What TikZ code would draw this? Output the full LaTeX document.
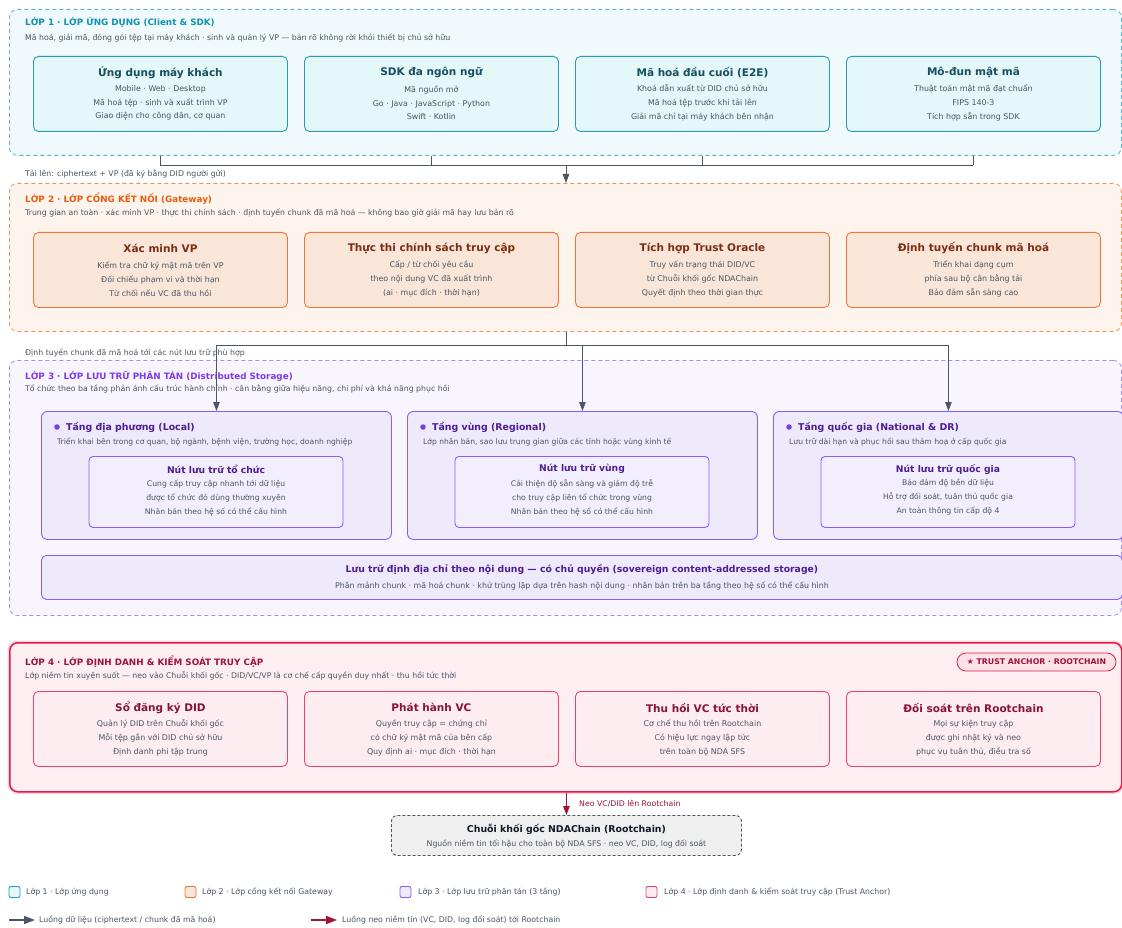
\documentclass[tikz,border=0pt]{standalone}
\usepackage{fontspec}
\setmainfont{DejaVu Sans}
\usetikzlibrary{arrows.meta,calc}
\definecolor{txt}{HTML}{4B5563}
\definecolor{flowc}{HTML}{4A5568}
\definecolor{l1fill}{HTML}{F0F9FB}\definecolor{l1line}{HTML}{5BB8CC}\definecolor{l1t}{HTML}{0E93B0}
\definecolor{l1bf}{HTML}{E4F7F9}\definecolor{l1bl}{HTML}{2A9BB5}\definecolor{l1tc}{HTML}{164E63}
\definecolor{l2fill}{HTML}{FEF4EE}\definecolor{l2line}{HTML}{F0925A}\definecolor{l2t}{HTML}{EA5A0C}
\definecolor{l2bf}{HTML}{FAE6D9}\definecolor{l2bl}{HTML}{EE7536}\definecolor{l2tc}{HTML}{7C2D12}
\definecolor{l3fill}{HTML}{F9F5FE}\definecolor{l3line}{HTML}{A78BFA}\definecolor{l3t}{HTML}{7C3AED}
\definecolor{l3bf}{HTML}{EFEAFB}\definecolor{l3bl}{HTML}{8B5CF6}\definecolor{l3tc}{HTML}{4C1D95}\definecolor{l3if}{HTML}{F3EEFD}
\definecolor{l4fill}{HTML}{FDEEF2}\definecolor{l4line}{HTML}{E11D48}\definecolor{l4t}{HTML}{9F1239}\definecolor{l4halo}{HTML}{FBD3DC}
\definecolor{l4bf}{HTML}{FDEDF0}\definecolor{l4bl}{HTML}{E8456D}\definecolor{l4tc}{HTML}{881337}\definecolor{badgef}{HTML}{FDE2E7}
\definecolor{rcf}{HTML}{EFEFEF}\definecolor{rcl}{HTML}{4B5563}\definecolor{rct}{HTML}{111827}
\newcommand\fs[2]{\fontsize{#1}{#2}\selectfont}
\tikzset{
 cont/.style={rounded corners=8pt, line width=0.8pt, dash pattern=on 4pt off 3pt, inner sep=0pt, anchor=north west, minimum width=1112},
 card/.style={rounded corners=5pt, line width=0.9pt, minimum width=254, minimum height=75, inner sep=0, anchor=north west},
 l1box/.style={fill=l1bf, draw=l1bl}, l2box/.style={fill=l2bf, draw=l2bl},
 l4box/.style={fill=l4bf, draw=l4bl},
 ttl/.style={font=\bfseries\fs{10.5}{12}, inner sep=0},
 bdy/.style={font=\fs{7.9}{13.7}, align=center, inner sep=0, text=txt},
 lt/.style={anchor=west, font=\bfseries\fs{8.8}{10}, inner sep=0},
 ls/.style={anchor=west, font=\fs{7.8}{9}, inner sep=0, text=txt},
 tier/.style={rounded corners=6pt, line width=0.9pt, fill=l3bf, draw=l3bl, minimum width=350, minimum height=128, inner sep=0, anchor=north west},
 inbox/.style={rounded corners=4pt, line width=0.9pt, fill=l3if, draw=l3bl, minimum width=254, minimum height=71, inner sep=0, anchor=north},
 dot/.style={circle, fill=l3t, minimum size=5.5, inner sep=0},
 flow/.style={draw=flowc, line width=0.9pt},
 flowarrow/.style={flow, -{Triangle[length=9pt,width=6.5pt]}},
 anchorarrow/.style={draw=l4t, line width=0.9pt, -{Triangle[length=9pt,width=6.5pt]}},
 leg/.style={rounded corners=2pt, line width=0.9pt, minimum size=11, inner sep=0},
 legt/.style={anchor=west, font=\fs{7.8}{9}, inner sep=0, text=txt},
}
\newcommand\card[6]{%
 \node[card, #2] (#1) at (#3,#4) {};
 \node[ttl] (#1t) at ([yshift=-16.5pt]#1.north) {#5};
 \node[bdy] (#1b) at ([yshift=-47pt]#1.north) {#6};
}
\newcommand\inner[4]{%
 \node[inbox] (#1) at (#2) {};
 \node[inner sep=0, font=\bfseries\fs{9.2}{10}, text=l3tc] (#1t) at ([yshift=-13pt]#1.north) {#3};
 \node[bdy, font=\fs{7.7}{14}] (#1b) at ([yshift=-41.5pt]#1.north) {#4};
}
\begin{document}
\begin{tikzpicture}[x=1pt,y=-1pt]
\useasboundingbox (0,0) rectangle (1122,928);
\fill[white] (0,0) rectangle (1122,928);
% ---------- Layer 1
\node[cont, fill=l1fill, draw=l1line, minimum height=146] (L1) at (9,9) {};
\node[lt, text=l1t] (L1t) at (25,22) {LỚP 1 · LỚP ỨNG DỤNG (Client \& SDK)};
\node[ls] (L1s) at (25,38) {Mã hoá, giải mã, đóng gói tệp tại máy khách · sinh và quản lý VP — bản rõ không rời khỏi thiết bị chủ sở hữu};
\tikzset{ttl/.append style={text=l1tc}}
\card{c11}{l1box}{33}{56}{Ứng dụng máy khách}{Mobile · Web · Desktop\\Mã hoá tệp · sinh và xuất trình VP\\Giao diện cho công dân, cơ quan}
\card{c12}{l1box}{304}{56}{SDK đa ngôn ngữ}{Mã nguồn mở\\Go · Java · JavaScript · Python\\Swift · Kotlin}
\card{c13}{l1box}{575}{56}{Mã hoá đầu cuối (E2E)}{Khoá dẫn xuất từ DID chủ sở hữu\\Mã hoá tệp trước khi tải lên\\Giải mã chỉ tại máy khách bên nhận}
\card{c14}{l1box}{846}{56}{Mô-đun mật mã}{Thuật toán mật mã đạt chuẩn\\FIPS 140-3\\Tích hợp sẵn trong SDK}
% ---------- Layer 2
\node[cont, fill=l2fill, draw=l2line, minimum height=148] (L2) at (9,183) {};
\node[lt, text=l2t] (L2t) at (25,199) {LỚP 2 · LỚP CỔNG KẾT NỐI (Gateway)};
\node[ls] (L2s) at (25,213) {Trung gian an toàn · xác minh VP · thực thi chính sách · định tuyến chunk đã mã hoá — không bao giờ giải mã hay lưu bản rõ};
\tikzset{ttl/.append style={text=l2tc}}
\card{c21}{l2box}{33}{232}{Xác minh VP}{Kiểm tra chữ ký mật mã trên VP\\Đối chiếu phạm vi và thời hạn\\Từ chối nếu VC đã thu hồi}
\card{c22}{l2box}{304}{232}{Thực thi chính sách truy cập}{Cấp / từ chối yêu cầu\\theo nội dung VC đã xuất trình\\(ai · mục đích · thời hạn)}
\card{c23}{l2box}{575}{232}{Tích hợp Trust Oracle}{Truy vấn trạng thái DID/VC\\từ Chuỗi khối gốc NDAChain\\Quyết định theo thời gian thực}
\card{c24}{l2box}{846}{232}{Định tuyến chunk mã hoá}{Triển khai dạng cụm\\phía sau bộ cân bằng tải\\Bảo đảm sẵn sàng cao}
\node[ls] (up) at (25,174) {Tải lên: ciphertext + VP (đã ký bằng DID người gửi)};
% ---------- Layer 3
\node[cont, fill=l3fill, draw=l3line, minimum height=255] (L3) at (9,360) {};
\node[lt, text=l3t] (L3t) at (25,376) {LỚP 3 · LỚP LƯU TRỮ PHÂN TÁN (Distributed Storage)};
\node[ls] (L3s) at (25,389) {Tổ chức theo ba tầng phản ánh cấu trúc hành chính · cân bằng giữa hiệu năng, chi phí và khả năng phục hồi};
\node[ls] (route) at (25,353) {Định tuyến chunk đã mã hoá tới các nút lưu trữ phù hợp};
\node[tier] (T1) at (41,411) {};
\node[tier] (T2) at (407,411) {};
\node[tier] (T3) at (773,411) {};
\node[dot] (T1d) at (57,427) {};
\node[dot] (T2d) at (423,427) {};
\node[dot] (T3d) at (789,427) {};
\node[lt, font=\bfseries\fs{9.4}{11}, text=l3tc] (T1t) at (66,427) {Tầng địa phương (Local)};
\node[lt, font=\bfseries\fs{9.4}{11}, text=l3tc] (T2t) at (432,427) {Tầng vùng (Regional)};
\node[lt, font=\bfseries\fs{9.4}{11}, text=l3tc] (T3t) at (798,427) {Tầng quốc gia (National \& DR)};
\node[ls, font=\fs{7.6}{9}] (T1s) at (57,442) {Triển khai bên trong cơ quan, bộ ngành, bệnh viện, trường học, doanh nghiệp};
\node[ls, font=\fs{7.6}{9}] (T2s) at (423,442) {Lớp nhân bản, sao lưu trung gian giữa các tỉnh hoặc vùng kinh tế};
\node[ls, font=\fs{7.6}{9}] (T3s) at (789,442) {Lưu trữ dài hạn và phục hồi sau thảm hoạ ở cấp quốc gia};
\inner{N1}{216,456}{Nút lưu trữ tổ chức}{Cung cấp truy cập nhanh tới dữ liệu\\được tổ chức đó dùng thường xuyên\\Nhân bản theo hệ số có thể cấu hình}
\inner{N2}{582,456}{Nút lưu trữ vùng}{Cải thiện độ sẵn sàng và giảm độ trễ\\cho truy cập liên tổ chức trong vùng\\Nhân bản theo hệ số có thể cấu hình}
\inner{N3}{948,456}{Nút lưu trữ quốc gia}{Bảo đảm độ bền dữ liệu\\Hỗ trợ đối soát, tuân thủ quốc gia\\An toàn thông tin cấp độ 4}
\node[rounded corners=5pt, line width=0.9pt, fill=l3bf, draw=l3bl, minimum width=1081, minimum height=44, inner sep=0, anchor=north west] (S) at (41,555) {};
\node[inner sep=0, font=\bfseries\fs{9.3}{10}, text=l3tc] (St) at ([yshift=-14pt]S.north) {Lưu trữ định địa chỉ theo nội dung — có chủ quyền (sovereign content-addressed storage)};
\node[inner sep=0, font=\fs{7.9}{9}, text=txt] (Ss) at ([yshift=-31pt]S.north) {Phân mảnh chunk · mã hoá chunk · khử trùng lặp dựa trên hash nội dung · nhân bản trên ba tầng theo hệ số có thể cấu hình};
% ---------- Layer 4
\node[cont, solid, fill=l4fill, draw=l4line, line width=1.5pt, preaction={draw=l4halo, line width=4.5pt}, minimum height=149] (L4) at (9,642) {};
\node[lt, text=l4t] (L4t) at (25,662) {LỚP 4 · LỚP ĐỊNH DANH \& KIỂM SOÁT TRUY CẬP};
\node[ls] (L4s) at (25,676) {Lớp niềm tin xuyên suốt — neo vào Chuỗi khối gốc · DID/VC/VP là cơ chế cấp quyền duy nhất · thu hồi tức thời};
\node[rounded corners=9pt, fill=badgef, draw=l4line, line width=0.8pt, minimum width=159, minimum height=18, inner sep=0, font=\bfseries\fs{7.8}{9}, text=l4t] (badge) at (1036.5,662) {★ TRUST ANCHOR · ROOTCHAIN};
\tikzset{ttl/.append style={text=l4tc}}
\card{c41}{l4box}{33}{691}{Sổ đăng ký DID}{Quản lý DID trên Chuỗi khối gốc\\Mỗi tệp gắn với DID chủ sở hữu\\Định danh phi tập trung}
\card{c42}{l4box}{304}{691}{Phát hành VC}{Quyền truy cập = chứng chỉ\\có chữ ký mật mã của bên cấp\\Quy định ai · mục đích · thời hạn}
\card{c43}{l4box}{575}{691}{Thu hồi VC tức thời}{Cơ chế thu hồi trên Rootchain\\Có hiệu lực ngay lập tức\\trên toàn bộ NDA SFS}
\card{c44}{l4box}{846}{691}{Đối soát trên Rootchain}{Mọi sự kiện truy cập\\được ghi nhật ký và neo\\phục vụ tuân thủ, điều tra số}
% ---------- Rootchain
\node[rounded corners=6pt, fill=rcf, draw=rcl, line width=0.9pt, dash pattern=on 3pt off 2pt, minimum width=350, minimum height=40, inner sep=0, anchor=north west] (R) at (391,815) {};
\node[inner sep=0, font=\bfseries\fs{9.4}{11}, text=rct] (Rt) at ([yshift=-14pt]R.north) {Chuỗi khối gốc NDAChain (Rootchain)};
\node[inner sep=0, font=\fs{7.8}{9}, text=txt] (Rs) at ([yshift=-29pt]R.north) {Nguồn niềm tin tối hậu cho toàn bộ NDA SFS · neo VC, DID, log đối soát};
\node[anchor=west, inner sep=0, font=\fs{7.8}{9}, text=l4t] (neo) at (579,804) {Neo VC/DID lên Rootchain};
% ---------- Connectors
\coordinate (j1) at (566,165);
\coordinate (j2) at (566,345);
\foreach \c in {c11,c12,c13,c14}{\draw[flow] (L1.south -| \c.south) -- (\c.south |- j1);}
\draw[flow] (c11.south |- j1) -- (c14.south |- j1);
\draw[flowarrow] (j1) -- (L2.north -| j1);
\draw[flow] (L2.south -| j2) -- (j2);
\draw[flowarrow] (j2) -| (T1.north);
\draw[flowarrow] (j2) -| (T2.north);
\draw[flowarrow] (j2) -| (T3.north);
\draw[anchorarrow] (L4.south -| R.north) -- (R.north);
% ---------- Legend
\node[leg, fill=l1bf, draw=l1bl] (g1) at (14.5,892) {};
\node[legt] (g1t) at (26,892) {Lớp 1 · Lớp ứng dụng};
\node[leg, fill=l2bf, draw=l2bl] (g2) at (190.5,892) {};
\node[legt] (g2t) at (202,892) {Lớp 2 · Lớp cổng kết nối Gateway};
\node[leg, fill=l3bf, draw=l3bl] (g3) at (405.5,892) {};
\node[legt] (g3t) at (418,892) {Lớp 3 · Lớp lưu trữ phân tán (3 tầng)};
\node[leg, fill=l4bf, draw=l4bl] (g4) at (651.5,892) {};
\node[legt] (g4t) at (664,892) {Lớp 4 · Lớp định danh \& kiểm soát truy cập (Trust Anchor)};
\coordinate (a1s) at (9,920); \coordinate (a1e) at (35,920);
\draw[flow, line width=1.4pt, -{Triangle[length=11pt,width=8pt]}] (a1s) -- (a1e);
\node[legt] (a1t) at (39,920) {Luồng dữ liệu (ciphertext / chunk đã mã hoá)};
\coordinate (a2s) at (311,920); \coordinate (a2e) at (337,920);
\draw[draw=l4t, line width=1.4pt, -{Triangle[length=11pt,width=8pt]}] (a2s) -- (a2e);
\node[legt] (a2t) at (342,920) {Luồng neo niềm tin (VC, DID, log đối soát) tới Rootchain};
\end{tikzpicture}
\end{document}
